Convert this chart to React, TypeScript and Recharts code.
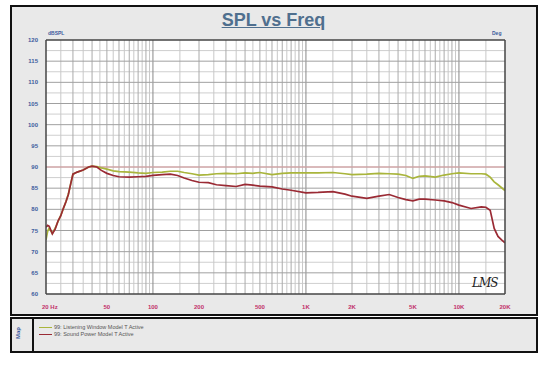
import { LineChart, Line, XAxis, YAxis, ReferenceLine, ReferenceArea } from "recharts";

// shared frequency points (Hz)
const freqs = [
  20, 20.5, 21, 22, 23, 24, 25, 26, 27, 28, 29, 30, 32, 35, 38, 40, 43, 46, 50, 55, 60, 70, 80, 90, 100,
  115, 130, 145, 160, 180, 200, 230, 260, 300, 350, 400, 450, 500, 600, 700, 800, 1000, 1200, 1500, 1800,
  2000, 2500, 3000, 3500, 4000, 4500, 5000, 5500, 6000, 7000, 8000, 9000, 10000, 12000, 14000, 15000,
  16000, 17000, 18000, 19000, 20000,
];

const listeningWindow = [
  72.8, 74.8, 75.6, 74.3, 75.6, 77.2, 78.6, 80.2, 81.8, 83.6, 86.0, 88.3, 88.8, 89.3, 90.0, 90.2, 90.1, 89.8,
  89.5, 89.1, 88.9, 88.8, 88.6, 88.5, 88.7, 88.8, 89.0, 89.0, 88.7, 88.4, 88.1, 88.2, 88.4, 88.5, 88.4, 88.6,
  88.5, 88.7, 88.2, 88.5, 88.6, 88.6, 88.6, 88.7, 88.4, 88.2, 88.3, 88.5, 88.4, 88.3, 88.0, 87.3, 87.8, 87.9,
  87.6, 88.1, 88.4, 88.6, 88.4, 88.4, 88.3, 87.6, 86.5, 85.8, 85.1, 84.4,
];

const soundPower = [
  75.8, 76.2, 76.0, 74.2, 75.4, 77.3, 78.5, 80.3, 81.8, 83.5, 86.0, 88.3, 88.8, 89.3, 90.0, 90.2, 90.0, 89.2,
  88.5, 88.0, 87.7, 87.6, 87.7, 87.8, 88.0, 88.2, 88.3, 88.0, 87.4, 86.8, 86.4, 86.3, 85.8, 85.6, 85.4, 85.9,
  85.7, 85.5, 85.3, 84.8, 84.5, 83.9, 84.0, 84.2, 83.6, 83.1, 82.6, 83.1, 83.5, 82.8, 82.3, 82.0, 82.4, 82.4,
  82.2, 82.0, 81.6, 81.0, 80.2, 80.6, 80.5, 79.8, 75.5, 73.6, 72.8, 72.1,
];

const xTicks = [20, 50, 100, 200, 500, 1000, 2000, 5000, 10000, 20000];
const xTickLabels = ["20 Hz", "50", "100", "200", "500", "1K", "2K", "5K", "10K", "20K"];
// vertical grid: every half step of each decade
const mantissas = [1, 1.5, 2, 2.5, 3, 3.5, 4, 4.5, 5, 5.5, 6, 6.5, 7, 7.5, 8, 8.5, 9, 9.5];
const decades = [10, 100, 1000, 10000];
const xGrid = decades
  .flatMap((d) => mantissas.map((m) => ({ v: m * d, major: Number.isInteger(m) })))
  .filter((g) => g.v > 20 && g.v < 20000);
const yTicks = [60, 65, 70, 75, 80, 85, 90, 95, 100, 105, 110, 115, 120];
const yMinor = [62.5, 67.5, 72.5, 77.5, 82.5, 87.5, 92.5, 97.5, 102.5, 107.5, 112.5, 117.5];
const degTicks = [-180, -150, -120, -90, -60, -30, 0, 30, 60, 90, 120, 150, 180];

const data = freqs.map((f, i) => ({ f, lw: listeningWindow[i], sp: soundPower[i] }));

const FONT = "'Liberation Sans', Arial, sans-serif";
const GREEN = "#a9b53c";
const RED = "#9a2a34";
const BLUE = "#3d5c9e";

function FreqTick(props: any) {
  const { x, y, payload, index } = props;
  const label = xTickLabels[xTicks.indexOf(payload.value)] ?? "";
  return (
    <text
      x={index === 0 ? x - 4 : x}
      y={y + 7}
      textAnchor={index === 0 ? "start" : "middle"}
      fontSize={6}
      fontWeight="bold"
      fill="#c2306a"
      fontFamily={FONT}
    >
      {label}
    </text>
  );
}

export default function App() {
  return (
    <div style={{ position: "absolute", left: 0, top: 0, width: 547, height: 365, background: "#fff", fontFamily: FONT }}>
      <div style={{ position: "absolute", left: 10, top: 5, width: 528, height: 311, boxSizing: "border-box", border: "2px solid #111", background: "#e9e9e9" }} />
      <div style={{ position: "absolute", left: 0, width: 547, top: 10, textAlign: "center", fontSize: 18, fontWeight: "bold", color: "#4f6f8e", textDecoration: "underline" }}>
        SPL vs Freq
      </div>
      <div style={{ position: "absolute", left: 48, top: 30, fontSize: 5, fontWeight: "bold", color: BLUE }}>dBSPL</div>
      <div style={{ position: "absolute", left: 492, top: 30, fontSize: 5, fontWeight: "bold", color: BLUE }}>Deg</div>
      <div style={{ position: "absolute", left: 0, top: 0 }}>
        <LineChart width={547} height={316} data={data} margin={{ top: 40, right: 12, left: 10, bottom: 0 }}>
          <XAxis
            dataKey="f"
            type="number"
            scale="log"
            domain={[20, 20000]}
            ticks={xTicks}
            allowDataOverflow
            tick={<FreqTick />}
            tickLine={false}
            axisLine={{ stroke: "#444", strokeWidth: 1.5 }}
            height={22}
            interval={0}
          />
          <YAxis
            yAxisId="l"
            domain={[60, 120]}
            ticks={yTicks}
            interval={0}
            tick={{ fontSize: 6, fill: BLUE, fontWeight: "bold" }}
            tickLine={false}
            axisLine={{ stroke: "#444", strokeWidth: 1.5 }}
            width={36}
          />
          <YAxis
            yAxisId="r"
            orientation="right"
            domain={[-180, 180]}
            ticks={degTicks}
            interval={0}
            tick={{ fontSize: 6, fill: BLUE, fontWeight: "bold" }}
            tickSize={3}
            tickLine={{ stroke: "#444" }}
            axisLine={{ stroke: "#444", strokeWidth: 1.5 }}
            width={30}
          />
          <ReferenceArea yAxisId="l" x1={20} x2={20000} y1={60} y2={120} fill="#fff" fillOpacity={1} stroke="none" />
          {yMinor.map((v) => (
            <ReferenceLine key={"ym" + v} yAxisId="l" y={v} stroke="#cfcfcf" strokeWidth={1} />
          ))}
          {xGrid.map((g) => (
            <ReferenceLine
              key={"x" + g.v}
              yAxisId="l"
              x={g.v}
              stroke={[100, 1000, 10000].includes(g.v) ? "#888" : g.major ? "#aaa" : "#c8c8c8"}
              strokeWidth={1}
            />
          ))}
          {yTicks.slice(1, -1).map((v) => (
            <ReferenceLine key={"y" + v} yAxisId="l" y={v} stroke="#a0a0a0" strokeWidth={1} />
          ))}
          <ReferenceLine yAxisId="l" y={120} stroke="#444" strokeWidth={1.5} />
          <ReferenceLine yAxisId="l" y={90} stroke="#e4a3a6" strokeWidth={1.2} />
          <Line yAxisId="l" dataKey="lw" stroke={GREEN} strokeWidth={1.7} dot={false} isAnimationActive={false} />
          <Line yAxisId="l" dataKey="sp" stroke={RED} strokeWidth={1.7} dot={false} isAnimationActive={false} />
        </LineChart>
      </div>
      <div style={{ position: "absolute", left: 472, top: 276, fontSize: 12, fontStyle: "italic", color: "#222", fontFamily: "'DejaVu Serif', serif", letterSpacing: -1 }}>
        LMS
      </div>
      <div style={{ position: "absolute", left: 10, top: 317, width: 528, height: 36, boxSizing: "border-box", border: "2px solid #111", background: "#e9e9e9" }}>
        <div style={{ position: "absolute", left: 0, top: 0, width: 20, height: 32, borderRight: "2px solid #111" }}>
          <div style={{ position: "absolute", left: 3, top: 20, transform: "rotate(-90deg)", transformOrigin: "left top", fontSize: 6, fontWeight: "bold", color: BLUE, whiteSpace: "nowrap", width: 14 }}>
            Map
          </div>
        </div>
        <div style={{ position: "absolute", left: 27, top: 5, fontSize: 5.5, color: "#555", lineHeight: "7px" }}>
          <div style={{ display: "flex", alignItems: "center" }}>
            <span style={{ display: "inline-block", width: 13, height: 1.5, background: GREEN, marginRight: 2 }} />
            99: Listening Window Model T Active
          </div>
          <div style={{ display: "flex", alignItems: "center" }}>
            <span style={{ display: "inline-block", width: 13, height: 1.5, background: RED, marginRight: 2 }} />
            99: Sound Power Model T Active
          </div>
        </div>
      </div>
    </div>
  );
}
